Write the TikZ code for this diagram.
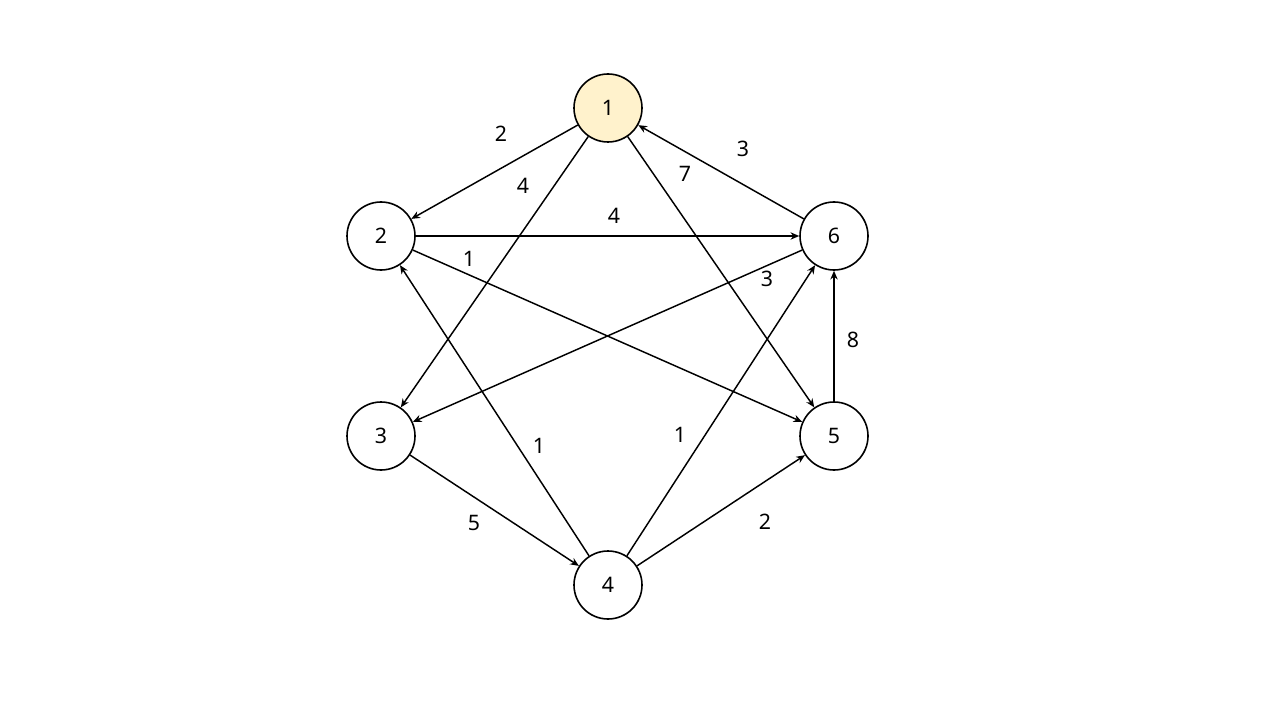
\documentclass[tikz,border=0pt]{standalone}
\usepackage{fontspec}
\setmainfont{Noto Sans}
\usetikzlibrary{arrows.meta}
\definecolor{startfill}{HTML}{FFF2CC}
\tikzset{
  vtx/.style={circle, draw=black, line width=1.2pt, minimum size=51pt, inner sep=0pt, fill=white, font=\fontsize{16}{19}\selectfont},
  startvtx/.style={vtx, fill=startfill},
  arr/.style={-{Stealth[length=6.5pt,width=5.5pt]}, line width=1.1pt, black},
  lbl/.style={font=\fontsize{16}{19}\selectfont, inner sep=0pt}
}
\begin{document}
\begin{tikzpicture}[x=0.75pt,y=-0.75pt]
\useasboundingbox (0,0) rectangle (1280,720);
\node[startvtx] (n1) at (608,108) {1};
\node[vtx] (n2) at (381,236) {2};
\node[vtx] (n3) at (381,436) {3};
\node[vtx] (n4) at (608,585) {4};
\node[vtx] (n5) at (834,436) {5};
\node[vtx] (n6) at (834,236) {6};

\draw[arr] (n1) -- (n2);
\draw[arr] (n1) -- (n3);
\draw[arr] (n1) -- (n5);
\draw[arr] (n6) -- (n1);
\draw[arr] (n2) -- (n6);
\draw[arr] (n2) -- (n5);
\draw[arr] (n6) -- (n3);
\draw[arr] (n5) -- (n6);
\draw[arr] (n4) -- (n2);
\draw[arr] (n4) -- (n6);
\draw[arr] (n3) -- (n4);
\draw[arr] (n4) -- (n5);

\node[lbl] (l12) at (501,134) {2};
\node[lbl] (l13) at (523,186) {4};
\node[lbl] (l15) at (685,174) {7};
\node[lbl] (l61) at (743,149) {3};
\node[lbl] (l26) at (614,216) {4};
\node[lbl] (l25) at (469,259) {1};
\node[lbl] (l63) at (767,279) {3};
\node[lbl] (l56) at (853,340) {8};
\node[lbl] (l42) at (539,446) {1};
\node[lbl] (l46) at (680,435) {1};
\node[lbl] (l34) at (474,523) {5};
\node[lbl] (l45) at (765,522) {2};
\end{tikzpicture}
\end{document}
